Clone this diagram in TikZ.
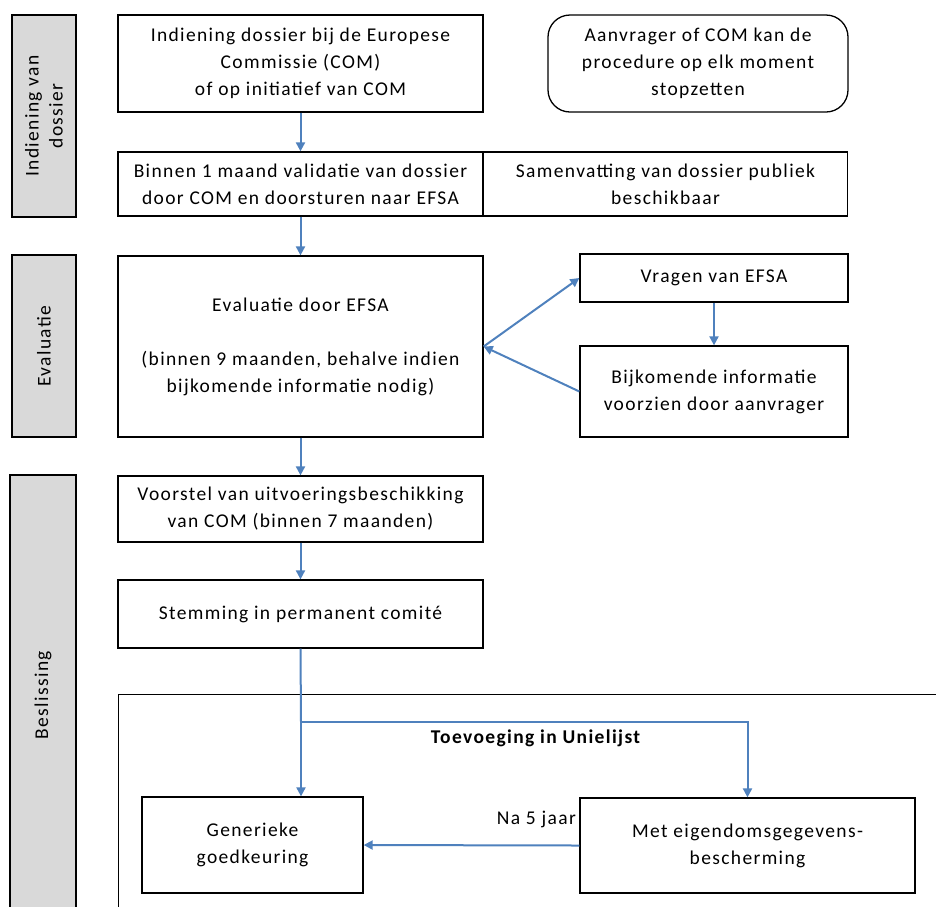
\documentclass[tikz,border=0pt]{standalone}
\usepackage{fontspec}
\setmainfont{Carlito}
\newfontfamily\dfam[LetterSpace=7]{Carlito}
\usetikzlibrary{arrows.meta}
\definecolor{arrowblue}{HTML}{4F81BD}
\definecolor{sidegray}{HTML}{D9D9D9}
\newcommand\dfont{\dfam\fontsize{19.5}{27}\selectfont}
\tikzset{
  box/.style={draw=black, line width=1.3pt, fill=white, align=center, inner sep=0pt, font=\dfont, rectangle},
  side/.style={draw=black, line width=1.3pt, fill=sidegray, align=center, inner sep=0pt, font=\dfont, rectangle},
  flow/.style={draw=arrowblue, line width=2pt, -{Triangle[length=9pt,width=9pt]}},
  plain/.style={draw=arrowblue, line width=2pt},
  lbl/.style={font=\dfont, inner sep=0pt}
}
\begin{document}
\begin{tikzpicture}[x=1pt,y=-1pt]
\useasboundingbox (0,0) rectangle (936,906);
\begin{scope}
\clip (0,0) rectangle (936,906);
% side labels
\node[side, minimum width=64pt, minimum height=202pt] (s1) at (44,116) {};
\node[lbl, rotate=90, align=center, font=\dfam\fontsize{19.5}{24}\selectfont] (s1t) at (44,116) {Indiening van\\dossier};
\node[side, minimum width=64pt, minimum height=182pt] (s2) at (44,346) {};
\node[lbl, rotate=90] (s2t) at (44,346) {Evaluatie};
\node[side, minimum width=66pt, minimum height=440pt] (s3) at (43,695) {};
\node[lbl, rotate=90] (s3t) at (43,695) {Beslissing};
% big decision box (open to the right and bottom)
\node[box, minimum width=900pt, minimum height=300pt, anchor=north west] (big) at (118,694) {};
\end{scope}

% main nodes
\node[box, minimum width=365pt, minimum height=97pt] (b1) at (300.5,63.5)
  {Indiening dossier bij de Europese\\Commissie (COM)\\of op initiatief van COM};
\node[box, rounded corners=22pt, minimum width=300pt, minimum height=97pt] (stop) at (698,63.5)
  {Aanvrager of COM kan de\\procedure op elk moment\\stopzetten};
\node[box, minimum width=365pt, minimum height=64pt] (b2) at (300.5,184)
  {Binnen 1 maand validatie van dossier\\door COM en doorsturen naar EFSA};
\node[box, minimum width=364pt, minimum height=64pt] (sam) at (665.5,184)
  {Samenvatting van dossier publiek\\beschikbaar};
\node[box, minimum width=365pt, minimum height=181pt] (eval) at (300.5,346.5)
  {Evaluatie door EFSA\\[27pt](binnen 9 maanden, behalve indien\\bijkomende informatie nodig)};
\node[box, minimum width=268pt, minimum height=48pt] (vr) at (714,278)
  {Vragen van EFSA};
\node[box, minimum width=268pt, minimum height=91pt] (bij) at (714,391.5)
  {Bijkomende informatie\\voorzien door aanvrager};
\node[box, minimum width=365pt, minimum height=66pt] (vs) at (300.5,509)
  {Voorstel van uitvoeringsbeschikking\\van COM (binnen 7 maanden)};
\node[box, minimum width=365pt, minimum height=68pt] (st) at (300.5,614)
  {Stemming in permanent comité};
\node[box, minimum width=221pt, minimum height=96pt] (gen) at (252.5,845)
  {Generieke\\goedkeuring};
\node[box, minimum width=335pt, minimum height=95pt] (met) at (747.5,845.5)
  {Met eigendomsgegevens-\\bescherming};

% labels
\node[lbl, font=\dfont\bfseries] (toe) at (535.5,738) {Toevoeging in Unielijst};
\node[lbl, anchor=east] (na5) at (576,819) {Na 5 jaar};

% connectors
\coordinate (j) at (301,722);
\coordinate (k) at (747.5,722);
\draw[flow] (b1.south) -- (b2.north);
\draw[flow] (b2.south) -- (eval.north);
\draw[flow] (eval.east) -- (vr.west);
\draw[flow] (vr.south) -- (bij.north);
\draw[flow] (bij.west) -- (eval.east);
\draw[flow] (eval.south) -- (vs.north);
\draw[flow] (vs.south) -- (st.north);
\draw[plain] (st.south) -- (j);
\draw[flow] (j) -- (j |- gen.north);
\draw[flow] (j) -- (k) -- (met.north);
\draw[flow] (met.west) -- (gen.east);
\end{tikzpicture}
\end{document}
